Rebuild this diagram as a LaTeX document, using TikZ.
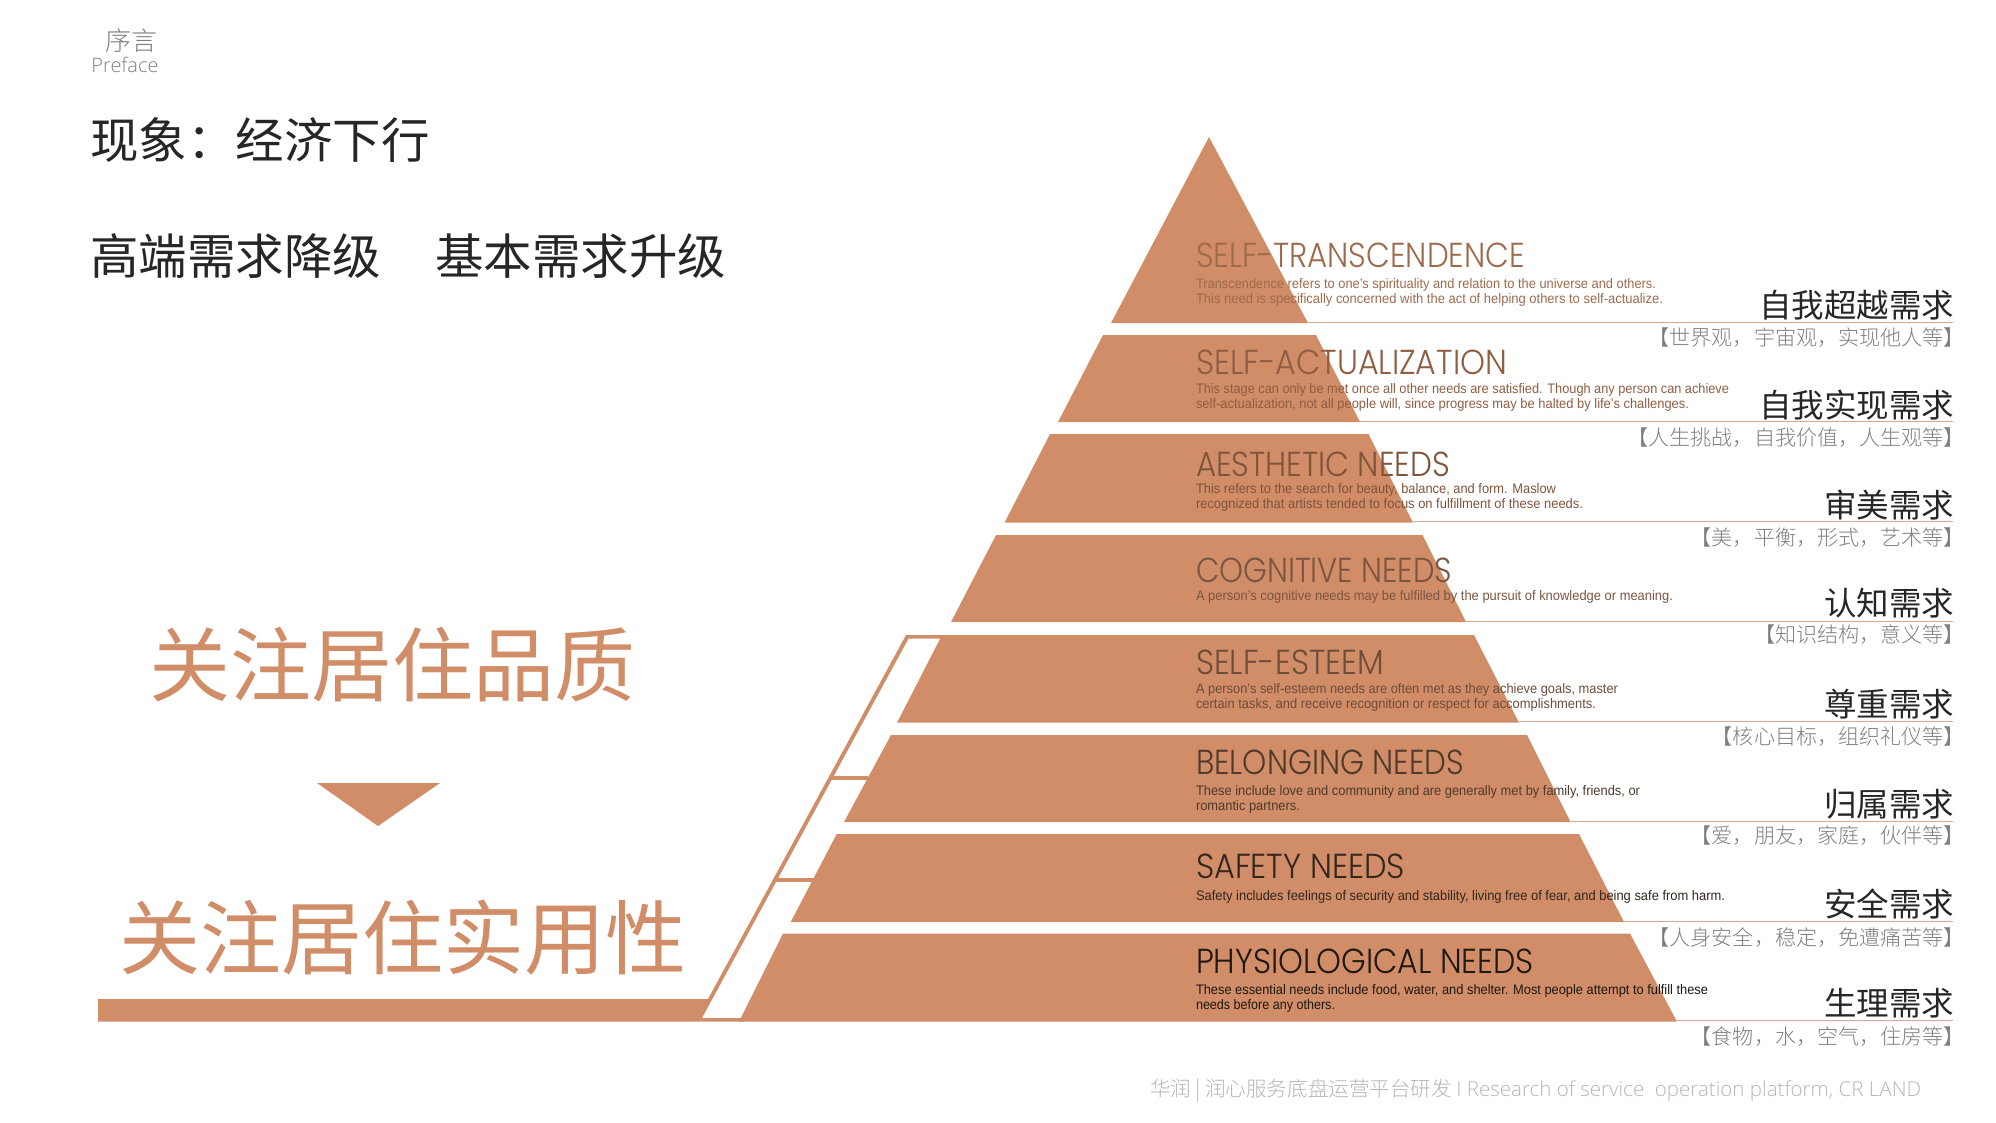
\documentclass[tikz,border=0pt]{standalone}
\usepackage{fontspec}
\usepackage{graphicx}
\setmainfont{Liberation Sans}
\newfontfamily\cjk{Noto Sans CJK SC}
\newfontfamily\cjklight{Noto Sans CJK SC Light}
\newfontfamily\ttlfont{Poppins Light}
\newfontfamily\latlight{Open Sans Light}
\definecolor{peach}{HTML}{D08D67}
\definecolor{peachline}{HTML}{DDA98E}
\definecolor{graytxt}{HTML}{7F7F7F}
\definecolor{foot}{HTML}{B5B5B5}
\newcommand\ttlfit[2]{\resizebox{#1pt}{24.5pt}{\ttlfont #2}}
\newcommand\descfit[2]{\resizebox{#1pt}{10pt}{#2}}
\newcommand\blackhead[1]{\fontsize{48.5}{48.5}\selectfont\cjk #1}
\newcommand\bigpeach[1]{\fontsize{81}{81}\selectfont\cjk #1}
\tikzset{
  layer/.style={fill=peach,draw=none},
  rail/.style={draw=peach,line width=3.6pt,line cap=butt},
  leader/.style={draw=peachline,line width=1.5pt},
  txt/.style={inner sep=0pt,outer sep=0pt},
  ttl/.style={txt,anchor=base west},
  desc/.style={txt,anchor=base west},
  cnt/.style={txt,anchor=east,font=\fontsize{32.5}{32.5}\selectfont\cjk,text=black!85},
  cns/.style={txt,anchor=east,font=\fontsize{21.1}{21.1}\selectfont\cjklight,text=graytxt},
}
\begin{document}
\begin{tikzpicture}[x=1pt,y=-1pt]
\useasboundingbox (0,0) rectangle (1996,1122);
% pyramid
\fill[layer] (1209,137) -- (1308,323) -- (1111,323) -- cycle;
\fill[layer] (1103,335) -- (1316,335) -- (1360,422) -- (1058,422) -- cycle;
\fill[layer] (1050,434) -- (1368.5,434) -- (1413,522.7) -- (1004.5,522.7) -- cycle;
\fill[layer] (996,535) -- (1422.5,535) -- (1466,622) -- (951,622) -- cycle;
\fill[layer] (942,635) -- (1474,635) -- (1519,722.7) -- (897,722.7) -- cycle;
\fill[layer] (891,735) -- (1527,735) -- (1570.5,822) -- (844,822) -- cycle;
\fill[layer] (836.7,834) -- (1579,834) -- (1624,922) -- (790.7,922) -- cycle;
\fill[layer] (783,933.5) -- (1630,933.5) -- (1677,1021.7) -- (739,1021.7) -- cycle;
% base bar and ladder
\fill[layer] (98,999) -- (708,999) -- (906,635) -- (945,635) -- (945,638.6) -- (908.5,638.6) -- (702,1018) -- (745,1018) -- (745,1021.7) -- (98,1021.7) -- cycle;
\coordinate (r1a) at (830,778); \coordinate (r1b) at (868,778);
\coordinate (r2a) at (776,880); \coordinate (r2b) at (814,880);
\draw[rail] (r1a) -- (r1b);
\draw[rail] (r2a) -- (r2b);
% leaders
\foreach \n/\xa/\ya in {a/1308/322.7,b/1360/421.7,c/1413/521.7,d/1466/621.7,e/1519/721.7,f/1570.5/821.7,g/1624/921.7,h/1677/1020.7}{
  \coordinate (l\n a) at (\xa,\ya);
  \coordinate (l\n b) at (1953,\ya);
  \draw[leader] (l\n a) -- (l\n b);
}
% triangle
\fill[layer] (317,783) -- (440,783) -- (378,826) -- cycle;
% top left
\node[txt,text=graytxt,font=\fontsize{26}{26}\selectfont\cjklight] (xu) at (131,41) {序言};
\node[txt,text=graytxt,font=\fontsize{20}{20}\selectfont\latlight] (pre) at (125,65) {Preface};
\node[txt,anchor=west,text=black!85] (h1) at (90,140) {\blackhead{现象：经济下行}};
\node[txt,anchor=west,text=black!85] (h2) at (90,256) {\blackhead{高端需求降级}};
\node[txt,anchor=west,text=black!85] (h3) at (435,256) {\blackhead{基本需求升级}};
\node[txt,anchor=west,text=peach] (b1) at (149,665) {\bigpeach{关注居住品质}};
\node[txt,anchor=west,text=peach] (b2) at (119,938) {\bigpeach{关注居住实用性}};
% level titles
\definecolor{t1}{HTML}{9E6A4C}\definecolor{t2}{HTML}{8F5D42}\definecolor{t3}{HTML}{80533B}\definecolor{t4}{HTML}{7A5642}
\definecolor{t5}{HTML}{6E4C3A}\definecolor{t6}{HTML}{4F3A2C}\definecolor{t7}{HTML}{33261E}\definecolor{t8}{HTML}{1E1712}
\node[ttl,text=t1] (ta) at (1196,267) {\ttlfit{329}{SELF-TRANSCENDENCE}};
\node[desc,text=t1] (da1) at (1196,288.5) {\descfit{460}{Transcendence refers to one's spirituality and relation to the universe and others.}};
\node[desc,text=t1] (da2) at (1196,303.5) {\descfit{467}{This need is specifically concerned with the act of helping others to self-actualize.}};
\node[ttl,text=t2] (tb) at (1196,374) {\ttlfit{311}{SELF-ACTUALIZATION}};
\node[desc,text=t2] (db1) at (1196,393.5) {\descfit{533}{This stage can only be met once all other needs are satisfied. Though any person can achieve}};
\node[desc,text=t2] (db2) at (1196,408.5) {\descfit{493}{self-actualization, not all people will, since progress may be halted by life's challenges.}};
\node[ttl,text=t3] (tc) at (1196,476) {\ttlfit{254}{AESTHETIC NEEDS}};
\node[desc,text=t3] (dc1) at (1196,493) {\descfit{360}{This refers to the search for beauty, balance, and form. Maslow}};
\node[desc,text=t3] (dc2) at (1196,508) {\descfit{387}{recognized that artists tended to focus on fulfillment of these needs.}};
\node[ttl,text=t4] (td) at (1196,582) {\ttlfit{256}{COGNITIVE NEEDS}};
\node[desc,text=t4] (dd1) at (1196,600.5) {\descfit{477}{A person's cognitive needs may be fulfilled by the pursuit of knowledge or meaning.}};
\node[ttl,text=t5] (te) at (1196,674) {\ttlfit{188}{SELF-ESTEEM}};
\node[desc,text=t5] (de1) at (1196,693.5) {\descfit{422}{A person's self-esteem needs are often met as they achieve goals, master}};
\node[desc,text=t5] (de2) at (1196,708.5) {\descfit{400}{certain tasks, and receive recognition or respect for accomplishments.}};
\node[ttl,text=t6] (tf) at (1196,774) {\ttlfit{268}{BELONGING NEEDS}};
\node[desc,text=t6] (df1) at (1196,795.5) {\descfit{444}{These include love and community and are generally met by family, friends, or}};
\node[desc,text=t6] (df2) at (1196,810.5) {\descfit{104}{romantic partners.}};
\node[ttl,text=t7] (tg) at (1196,878) {\ttlfit{209}{SAFETY NEEDS}};
\node[desc,text=t7] (dg1) at (1196,900.5) {\descfit{529}{Safety includes feelings of security and stability, living free of fear, and being safe from harm.}};
\node[ttl,text=t8] (th) at (1196,973) {\ttlfit{338}{PHYSIOLOGICAL NEEDS}};
\node[desc,text=t8] (dh1) at (1196,994.5) {\descfit{512}{These essential needs include food, water, and shelter. Most people attempt to fulfill these}};
\node[desc,text=t8] (dh2) at (1196,1009.5) {\descfit{139}{needs before any others.}};
% right labels
\node[cnt] (ca) at (1954,305) {自我超越需求};
\node[cns] (sa) at (1965,338) {【世界观，宇宙观，实现他人等】};
\node[cnt] (cb) at (1954,405) {自我实现需求};
\node[cns] (sb) at (1965,438) {【人生挑战，自我价值，人生观等】};
\node[cnt] (cc) at (1954,505) {审美需求};
\node[cns] (sc) at (1965,538) {【美，平衡，形式，艺术等】};
\node[cnt] (cd) at (1954,603) {认知需求};
\node[cns] (sd) at (1965,635) {【知识结构，意义等】};
\node[cnt] (ce) at (1954,704) {尊重需求};
\node[cns] (se) at (1965,737) {【核心目标，组织礼仪等】};
\node[cnt] (cf) at (1954,804) {归属需求};
\node[cns] (sf) at (1965,836) {【爱，朋友，家庭，伙伴等】};
\node[cnt] (cg) at (1954,904) {安全需求};
\node[cns] (sg) at (1965,937) {【人身安全，稳定，免遭痛苦等】};
\node[cnt] (ch) at (1954,1003) {生理需求};
\node[cns] (sh) at (1965,1037) {【食物，水，空气，住房等】};
% footer
\node[txt,anchor=west,text=foot,font=\fontsize{22}{22}\selectfont] (ft) at (1150,1091) {\resizebox{771pt}{!}{\cjklight 华润 | 润心服务底盘运营平台研发 \latlight I Research of service\ \ operation platform, CR LAND}};
\end{tikzpicture}
\end{document}
